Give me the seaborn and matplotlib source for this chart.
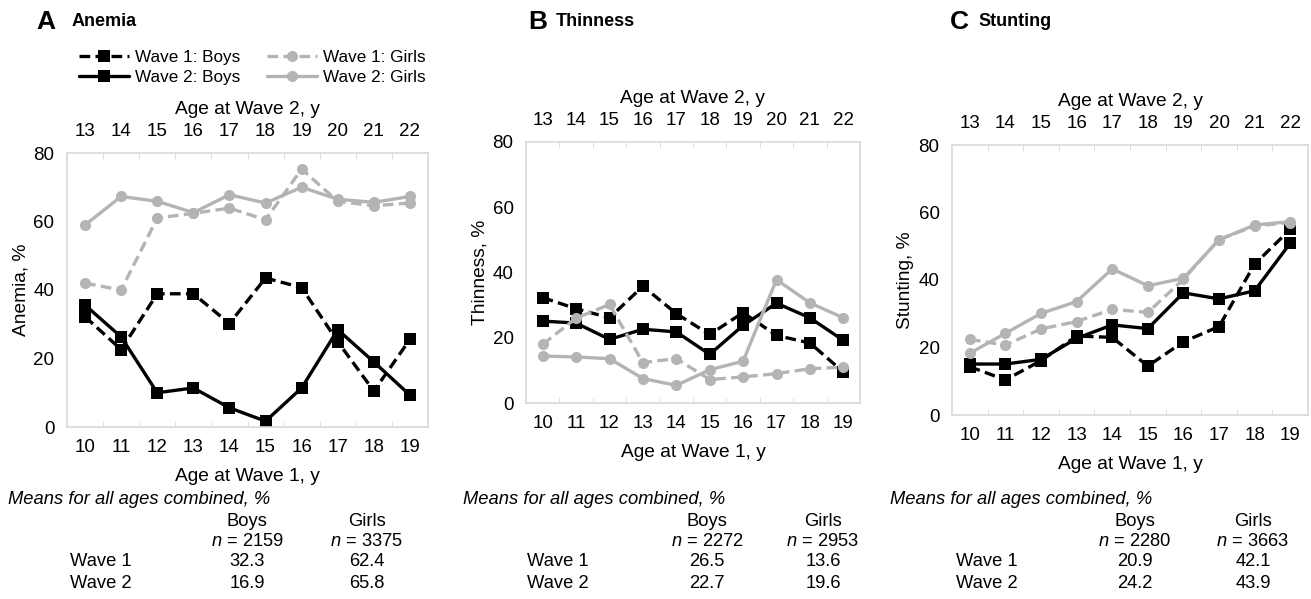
import pandas as pd
import seaborn as sns
import matplotlib.pyplot as plt

AGES_W1 = [10, 11, 12, 13, 14, 15, 16, 17, 18, 19]
AGES_W2 = [13, 14, 15, 16, 17, 18, 19, 20, 21, 22]
SERIES = ["Wave 1: Boys", "Wave 2: Boys", "Wave 1: Girls", "Wave 2: Girls"]

# values (percent)
anemia_w1_boys = [32.2, 22.6, 38.9, 38.9, 30.2, 43.5, 40.7, 24.9, 10.5, 25.6]
anemia_w2_boys = [35.6, 26.3, 10.0, 11.4, 5.6, 1.7, 11.4, 28.4, 19.0, 9.3]
anemia_w1_girls = [42.0, 40.0, 61.0, 62.4, 63.9, 60.5, 75.3, 65.9, 64.6, 65.4]
anemia_w2_girls = [59.0, 67.3, 65.9, 62.6, 67.8, 65.4, 70.0, 66.5, 65.6, 67.3]

thin_w1_boys = [32.3, 28.9, 26.1, 35.8, 27.4, 21.0, 27.7, 20.7, 18.4, 9.5]
thin_w2_boys = [25.1, 24.5, 19.5, 22.6, 21.8, 14.9, 23.8, 30.6, 26.1, 19.2]
thin_w1_girls = [18.0, 26.0, 30.2, 12.4, 13.6, 7.2, 8.0, 9.0, 10.5, 11.0]
thin_w2_girls = [14.4, 14.1, 13.6, 7.5, 5.4, 10.2, 12.8, 37.8, 30.7, 26.1]

stunt_w1_boys = [14.3, 10.4, 16.1, 23.4, 23.0, 14.5, 21.7, 26.2, 44.7, 55.0]
stunt_w2_boys = [15.1, 15.1, 16.5, 22.7, 26.7, 25.6, 36.2, 34.4, 36.8, 50.9]
stunt_w1_girls = [22.4, 20.7, 25.5, 27.7, 31.3, 30.4, 40.2, 52.0, 56.0, 57.0]
stunt_w2_girls = [18.3, 24.2, 30.1, 33.6, 43.3, 38.3, 40.5, 51.9, 56.3, 57.3]

PANELS = [
    ("A", "Anemia", "Anemia, %", [anemia_w1_boys, anemia_w2_boys, anemia_w1_girls, anemia_w2_girls],
     ("2159", "3375"), ("32.3", "62.4"), ("16.9", "65.8")),
    ("B", "Thinness", "Thinness, %", [thin_w1_boys, thin_w2_boys, thin_w1_girls, thin_w2_girls],
     ("2272", "2953"), ("26.5", "13.6"), ("22.7", "19.6")),
    ("C", "Stunting", "Stunting, %", [stunt_w1_boys, stunt_w2_boys, stunt_w1_girls, stunt_w2_girls],
     ("2280", "3663"), ("20.9", "42.1"), ("24.2", "43.9")),
]

GREY = "#b4b4b4"
FRAME = "#d9d9d9"
W, H = 1311, 599

# axes boxes in pixels: left, top, right, bottom (panels are not quite aligned in the original)
AX_PX = [(67, 153, 428, 427), (526, 142, 860, 403), (952, 145, 1308, 415)]
# x positions of panel letter, title, means block, boys column, girls column, row labels
TXT_PX = [(36, 72, 8, 247, 367, 70), (528, 556, 463, 707, 823, 527), (950, 978, 890, 1135, 1253, 956)]

sns.set_style("white")
plt.rcParams["font.family"] = ["Liberation Sans", "DejaVu Sans"]
plt.rcParams["mathtext.fontset"] = "custom"
plt.rcParams["mathtext.it"] = "Liberation Sans:italic"
plt.rcParams["mathtext.rm"] = "Liberation Sans"
plt.rcParams["font.size"] = 13.2
for key in ["text.color", "axes.labelcolor", "xtick.color", "ytick.color"]:
    plt.rcParams[key] = "black"
plt.rcParams["xtick.labelsize"] = 13.5
plt.rcParams["ytick.labelsize"] = 13.5
plt.rcParams["axes.labelsize"] = 13.8

fig = plt.figure(figsize=(W / 100, H / 100), dpi=100)


def fx(px):
    return px / W


def fy(py):
    return 1 - py / H


for i, (letter, title, ylabel, values, ns, w1, w2) in enumerate(PANELS):
    l, t, r, b = AX_PX[i]
    ax = fig.add_axes([fx(l), fy(b), fx(r) - fx(l), fy(t) - fy(b)])

    df = pd.DataFrame({
        "age": AGES_W1 * 4,
        "value": sum(values, []),
        "series": [s for s in SERIES for _ in AGES_W1],
    })
    sns.lineplot(
        data=df, x="age", y="value", hue="series", style="series", hue_order=SERIES, style_order=SERIES,
        palette={"Wave 1: Boys": "black", "Wave 2: Boys": "black", "Wave 1: Girls": GREY, "Wave 2: Girls": GREY},
        dashes={"Wave 1: Boys": (3.2, 1.6), "Wave 2: Boys": "", "Wave 1: Girls": (3.2, 1.6), "Wave 2: Girls": ""},
        markers={"Wave 1: Boys": "s", "Wave 2: Boys": "s", "Wave 1: Girls": "o", "Wave 2: Girls": "o"},
        linewidth=2.4, markersize=8, markeredgewidth=0, ax=ax, legend=(i == 0),
    )

    ax.set_xlim(AGES_W1[0] - 0.5, AGES_W1[-1] + 0.5)
    ax.set_ylim(0, 80)
    ax.set_yticks([0, 20, 40, 60, 80])
    ax.set_xticks(AGES_W1)
    ax.set_xticks([a + 0.5 for a in AGES_W1[:-1]], minor=True)
    ax.tick_params(axis="x", which="major", length=0, pad=9)
    ax.tick_params(axis="x", which="minor", direction="in", length=4, color=FRAME, top=True, bottom=True)
    ax.tick_params(axis="y", direction="in", length=4, color=FRAME, pad=9)
    for sp in ax.spines.values():
        sp.set_color(FRAME)
        sp.set_linewidth(1.2)
    ax.set_ylabel(ylabel, labelpad=3)
    ax.set_xlabel("Age at Wave 1, y", labelpad=8)

    top = ax.secondary_xaxis("top")
    top.set_xticks(AGES_W1, labels=[str(a) for a in AGES_W2])
    top.tick_params(length=0, pad=9.5)
    top.spines["top"].set_visible(False)
    top.set_xlabel("Age at Wave 2, y", labelpad=6)

    if i == 0:
        sns.move_legend(
            ax, "upper left", bbox_to_anchor=(fx(79), fy(50)), bbox_transform=fig.transFigure,
            ncol=2, frameon=False, title=None, handlelength=2.9, handletextpad=0.35,
            columnspacing=1.6, labelspacing=0.3, fontsize=12.3, borderaxespad=0, borderpad=0,
        )

    xl, xt, xm, xb, xg, xr = TXT_PX[i]
    fig.text(fx(xl), fy(22), letter, fontsize=19, fontweight="bold", va="center")
    fig.text(fx(xt), fy(22), title, fontsize=13, fontweight="bold", va="center")
    fig.text(fx(xm), fy(500), "Means for all ages combined, %", style="italic", va="center")
    fig.text(fx(xb), fy(521), "Boys", ha="center", va="center")
    fig.text(fx(xg), fy(521), "Girls", ha="center", va="center")
    fig.text(fx(xb), fy(541), f"$n$ = {ns[0]}", ha="center", va="center")
    fig.text(fx(xg), fy(541), f"$n$ = {ns[1]}", ha="center", va="center")
    fig.text(fx(xr), fy(562), "Wave 1", va="center")
    fig.text(fx(xb), fy(562), w1[0], ha="center", va="center")
    fig.text(fx(xg), fy(562), w1[1], ha="center", va="center")
    fig.text(fx(xr), fy(583), "Wave 2", va="center")
    fig.text(fx(xb), fy(583), w2[0], ha="center", va="center")
    fig.text(fx(xg), fy(583), w2[1], ha="center", va="center")

fig.savefig("out.png", dpi=100)
